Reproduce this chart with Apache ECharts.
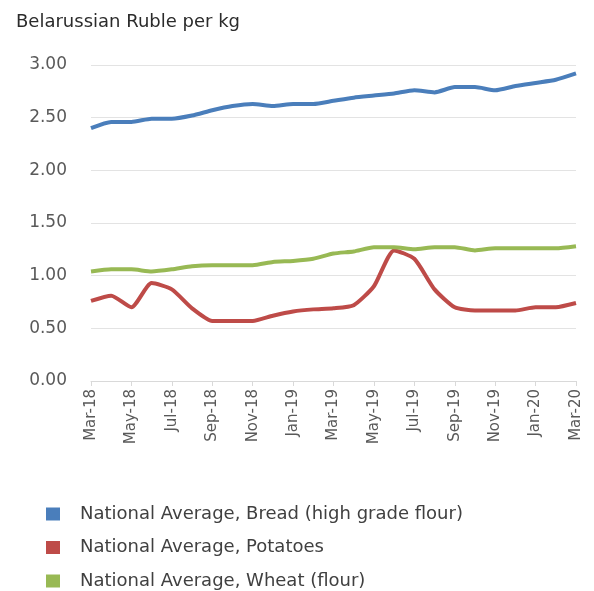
<!DOCTYPE html>
<html>
<head>
<meta charset="utf-8">
<script src="https://cdn.jsdelivr.net/npm/echarts@6/dist/echarts.min.js"></script>
<style>
  html, body { margin: 0; padding: 0; background: #fff; }
  #main { width: 594px; height: 591px; }
</style>
</head>
<body>
<div id="main"></div>
<script>
const months = ['Mar-18', 'Apr-18', 'May-18', 'Jun-18', 'Jul-18', 'Aug-18', 'Sep-18', 'Oct-18', 'Nov-18', 'Dec-18',
  'Jan-19', 'Feb-19', 'Mar-19', 'Apr-19', 'May-19', 'Jun-19', 'Jul-19', 'Aug-19', 'Sep-19', 'Oct-19',
  'Nov-19', 'Dec-19', 'Jan-20', 'Feb-20', 'Mar-20'];
const bread = [2.40, 2.46, 2.46, 2.49, 2.49, 2.52, 2.57, 2.61, 2.63, 2.61, 2.63, 2.63, 2.66, 2.69, 2.71, 2.73,
  2.76, 2.74, 2.79, 2.79, 2.76, 2.80, 2.83, 2.86, 2.92];
const potatoes = [0.76, 0.81, 0.70, 0.93, 0.87, 0.69, 0.57, 0.57, 0.57, 0.62, 0.66, 0.68, 0.69, 0.72, 0.90, 1.24,
  1.16, 0.87, 0.70, 0.67, 0.67, 0.67, 0.70, 0.70, 0.74];
const wheat = [1.04, 1.06, 1.06, 1.04, 1.06, 1.09, 1.10, 1.10, 1.10, 1.13, 1.14, 1.16, 1.21, 1.23, 1.27, 1.27,
  1.25, 1.27, 1.27, 1.24, 1.26, 1.26, 1.26, 1.26, 1.28];
const seriesNames = ['National Average, Bread (high grade flour)', 'National Average, Potatoes', 'National Average, Wheat (flour)'];
const colors = ['#4a7ebb', '#be4b48', '#98b954'];

const font = '"DejaVu Sans", sans-serif';
let myChart = echarts.init(document.getElementById('main'));

function line(name, data, color) {
  return {
    name: name,
    type: 'line',
    data: data,
    symbol: 'none',
    smooth: 0.2,
    lineStyle: { width: 4, color: color },
    itemStyle: { color: color }
  };
}

let option = {
  animation: false,
  title: {
    text: 'Belarussian Ruble per kg',
    left: 11,
    top: 8,
    textStyle: { fontFamily: font, fontSize: 18, fontWeight: 'normal', color: '#2b2b2b' }
  },
  grid: { left: 91, right: 18, top: 65, bottom: 210 },
  xAxis: {
    type: 'category',
    data: months,
    boundaryGap: false,
    axisLine: { lineStyle: { color: '#d9d9d9' } },
    axisTick: { show: true, interval: 1, length: 5, lineStyle: { color: '#d9d9d9' } },
    axisLabel: { interval: 1, rotate: 90, fontFamily: font, fontSize: 15, color: '#595959', margin: 8 },
    splitLine: { show: false }
  },
  yAxis: {
    type: 'value',
    min: 0,
    max: 3,
    interval: 0.5,
    axisLine: { show: false },
    axisTick: { show: false },
    axisLabel: {
      fontFamily: font, fontSize: 17, color: '#595959', margin: 24,
      formatter: v => v.toFixed(2)
    },
    splitLine: { lineStyle: { color: '#e3e3e3' } }
  },
  legend: {
    orient: 'vertical',
    left: 41,
    top: 500,
    height: 120,
    icon: 'rect',
    itemWidth: 14,
    itemHeight: 13,
    itemGap: 15.5,
    data: seriesNames,
    textStyle: { fontFamily: font, fontSize: 18, color: '#404040', lineHeight: 18, padding: [0, 0, 0, 15] }
  },
  series: [
    line(seriesNames[0], bread, colors[0]),
    line(seriesNames[1], potatoes, colors[1]),
    line(seriesNames[2], wheat, colors[2])
  ]
};
myChart.setOption(option);
</script>
</body>
</html>
